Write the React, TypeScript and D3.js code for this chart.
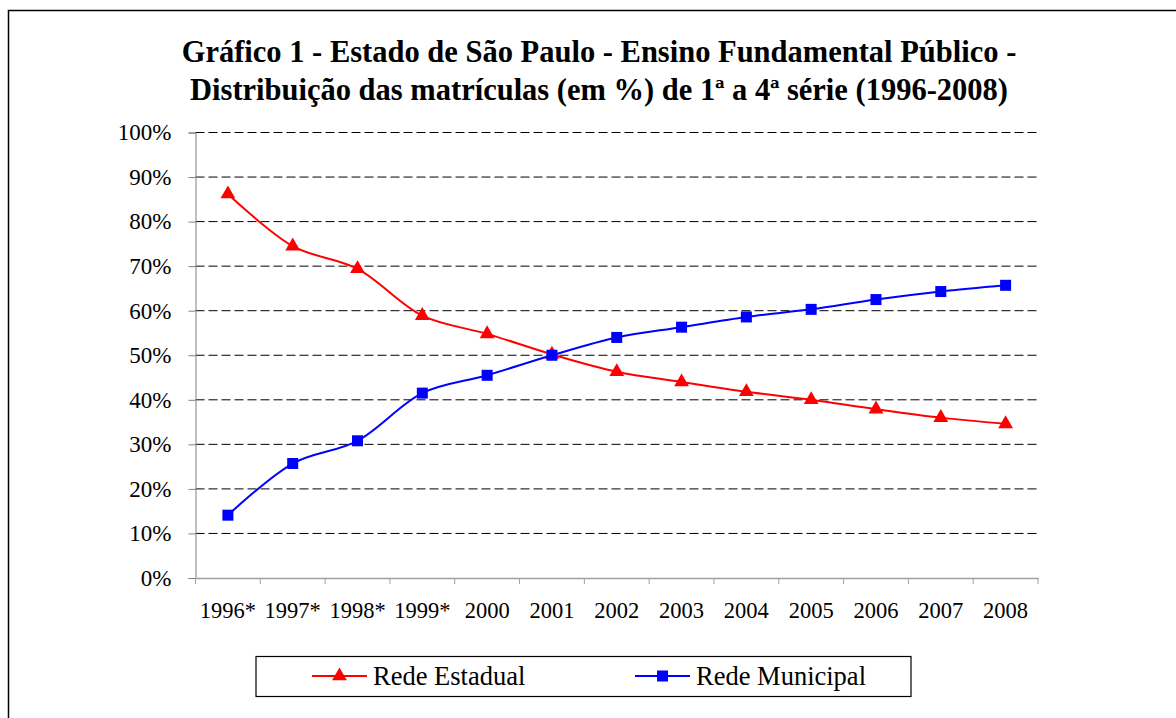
import React, { useEffect, useRef } from 'react';
import * as d3 from 'd3';

// dados
const years = ['1996*', '1997*', '1998*', '1999*', '2000', '2001', '2002', '2003', '2004', '2005', '2006', '2007', '2008'];
const redeEstadual = [86.2, 74.5, 69.4, 58.9, 54.8, 50.2, 46.3, 44.0, 41.8, 40.0, 37.9, 36.0, 34.6];
const redeMunicipal = [14.1, 25.7, 30.8, 41.5, 45.5, 50.0, 54.0, 56.3, 58.6, 60.3, 62.5, 64.3, 65.7];
const yTicks = [0, 10, 20, 30, 40, 50, 60, 70, 80, 90, 100];
const titleLines = [
  'Gráfico 1 - Estado de São Paulo - Ensino Fundamental Público -',
  'Distribuição das matrículas (em %) de 1ª a 4ª série (1996-2008)',
];

const App = () => {
  const ref = useRef<SVGSVGElement | null>(null);

  useEffect(() => {
    if (!ref.current) return;
    const W = 1176;
    const H = 718;
    const margin = { top: 132.5, right: 138, bottom: 140, left: 195.5 };
    const width = W - margin.left - margin.right;
    const height = H - margin.top - margin.bottom;
    const font = '"Liberation Serif", "Times New Roman", serif';

    const root = d3.select(ref.current);
    root.selectAll('*').remove();
    root.attr('width', W).attr('height', H);

    // moldura
    root.append('rect')
      .attr('x', 8.5).attr('y', 10.5)
      .attr('width', 1200).attr('height', 800)
      .attr('fill', 'none').attr('stroke', '#000').attr('stroke-width', 1.5);

    // título
    root.append('g').selectAll('text')
      .data(titleLines)
      .enter().append('text')
      .attr('x', 599)
      .attr('y', (d, i) => 62 + i * 38)
      .attr('text-anchor', 'middle')
      .attr('font-family', font)
      .attr('font-weight', 'bold')
      .attr('font-size', 30.5)
      .text(d => d);

    const svg = root.append('g').attr('transform', `translate(${margin.left},${margin.top})`);

    const x = d3.scaleBand().domain(years).range([0, width]);
    const y = d3.scaleLinear().domain([0, 100]).range([height, 0]);

    // grade tracejada
    svg.selectAll('.grid')
      .data(yTicks.filter(t => t > 0))
      .enter().append('line')
      .attr('x1', 0).attr('x2', width)
      .attr('y1', d => y(d)).attr('y2', d => y(d))
      .attr('stroke', '#000').attr('stroke-width', 1)
      .attr('stroke-dasharray', '9,4');

    // eixo y
    const yAxis = svg.append('g')
      .call(d3.axisLeft(y).tickValues(yTicks).tickSize(7).tickPadding(17).tickFormat(d => `${d}%`));
    yAxis.select('.domain').attr('stroke', '#808080');
    yAxis.selectAll('.tick line').attr('stroke', '#808080');
    yAxis.selectAll('text').attr('font-family', font).attr('font-size', 23).attr('fill', '#000');

    // eixo x
    const xAxis = svg.append('g')
      .attr('transform', `translate(0,${height})`)
      .call(d3.axisBottom(x).tickSize(0).tickPadding(24));
    xAxis.select('.domain').attr('stroke', '#a0a0a0').attr('stroke-width', 1.5);
    xAxis.selectAll('text').attr('font-family', font).attr('font-size', 22.5).attr('fill', '#000');
    svg.selectAll('.xtick')
      .data(years.concat(['end']))
      .enter().append('line')
      .attr('x1', (d, i) => i * x.step()).attr('x2', (d, i) => i * x.step())
      .attr('y1', height).attr('y2', height + 6)
      .attr('stroke', '#a0a0a0');

    const cx = (i: number) => (x(years[i]) as number) + x.bandwidth() / 2;
    const line = d3.line<number>()
      .x((d, i) => cx(i))
      .y(d => y(d))
      .curve(d3.curveCatmullRom.alpha(0.5));

    const tri = d3.symbol().type(d3.symbolTriangle).size(95);

    // Rede Estadual
    svg.append('path')
      .datum(redeEstadual)
      .attr('d', line)
      .attr('fill', 'none').attr('stroke', '#ff0000').attr('stroke-width', 2);
    svg.selectAll('.tri')
      .data(redeEstadual)
      .enter().append('path')
      .attr('d', tri)
      .attr('transform', (d, i) => `translate(${cx(i)},${y(d)})`)
      .attr('fill', '#ff0000');

    // Rede Municipal
    svg.append('path')
      .datum(redeMunicipal)
      .attr('d', line)
      .attr('fill', 'none').attr('stroke', '#0000ff').attr('stroke-width', 2);
    svg.selectAll('.sq')
      .data(redeMunicipal)
      .enter().append('rect')
      .attr('x', (d, i) => cx(i) - 5.5)
      .attr('y', d => y(d) - 5.5)
      .attr('width', 11).attr('height', 11)
      .attr('fill', '#0000ff');

    // legenda
    const leg = root.append('g');
    leg.append('rect')
      .attr('x', 256).attr('y', 656.5)
      .attr('width', 655).attr('height', 40)
      .attr('fill', '#fff').attr('stroke', '#000').attr('stroke-width', 1.2);
    const items = [
      { name: 'Rede Estadual', color: '#ff0000', x0: 312, shape: 'tri' },
      { name: 'Rede Municipal', color: '#0000ff', x0: 635, shape: 'sq' },
    ];
    items.forEach(it => {
      leg.append('line')
        .attr('x1', it.x0).attr('x2', it.x0 + 55)
        .attr('y1', 676).attr('y2', 676)
        .attr('stroke', it.color).attr('stroke-width', 2);
      if (it.shape === 'tri') {
        leg.append('path').attr('d', tri).attr('transform', `translate(${it.x0 + 27.5},676)`).attr('fill', it.color);
      } else {
        leg.append('rect').attr('x', it.x0 + 22).attr('y', 670.5).attr('width', 11).attr('height', 11).attr('fill', it.color);
      }
      leg.append('text')
        .attr('x', it.x0 + 61).attr('y', 685)
        .attr('font-family', font).attr('font-size', 26.5)
        .text(it.name);
    });
  }, []);

  return <svg ref={ref} style={{ position: 'absolute', left: 0, top: 0 }} />;
};

export default App;
